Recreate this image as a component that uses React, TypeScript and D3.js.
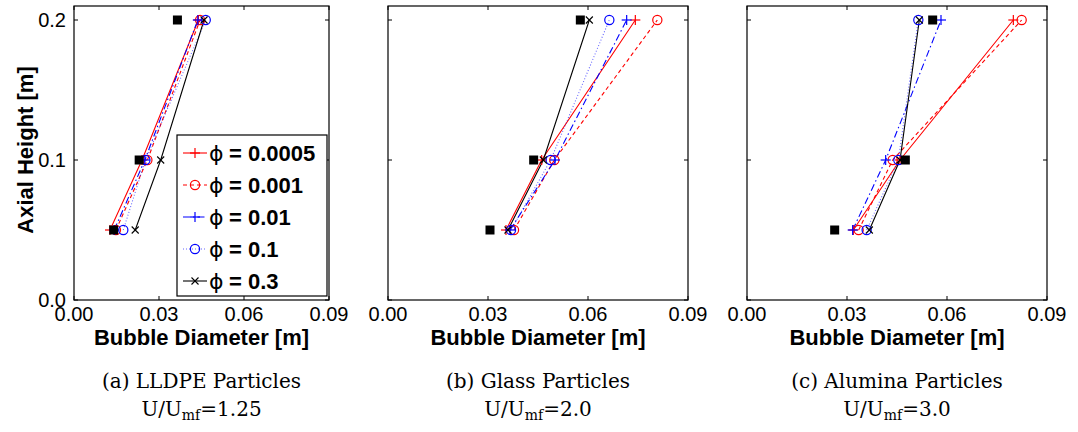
import React from "react";
import * as d3 from "d3";

const heights = [0.05, 0.1, 0.2];
const phiLabels = ["0.0005", "0.001", "0.01", "0.1", "0.3"];
const xTicks = [0, 0.03, 0.06, 0.09];
const yTicks = [0, 0.1, 0.2];
const panelTitles = ["(a) LLDPE Particles", "(b) Glass Particles", "(c) Alumina Particles"];
const panelRatios = ["1.25", "2.0", "3.0"];

// LLDPE
const lldpe0005 = [0.0127, 0.024, 0.0439];
const lldpe001 = [0.0148, 0.0259, 0.0445];
const lldpe01 = [0.0142, 0.025, 0.0437];
const lldpe1 = [0.0174, 0.0252, 0.0465];
const lldpe3 = [0.0216, 0.0306, 0.0459];
const lldpeExp = [0.014, 0.023, 0.0365];
// Glass
const glass0005 = [0.0354, 0.0461, 0.0742];
const glass001 = [0.0378, 0.0499, 0.0808];
const glass01 = [0.0366, 0.0501, 0.0716];
const glass1 = [0.0369, 0.0488, 0.0664];
const glass3 = [0.036, 0.0466, 0.0604];
const glassExp = [0.0306, 0.0437, 0.0577];
// Alumina
const alum0005 = [0.0319, 0.0459, 0.0799];
const alum001 = [0.0335, 0.0437, 0.0824];
const alum01 = [0.0317, 0.0416, 0.0582];
const alum1 = [0.0359, 0.0454, 0.0514];
const alum3 = [0.0367, 0.0459, 0.0517];
const alumExp = [0.0263, 0.0475, 0.0557];

const panelSeries = [
  [lldpe0005, lldpe001, lldpe01, lldpe1, lldpe3],
  [glass0005, glass001, glass01, glass1, glass3],
  [alum0005, alum001, alum01, alum1, alum3],
];
const panelExp = [lldpeExp, glassExp, alumExp];

const styles = [
  { color: "#ff0000", dash: "none", marker: "plus" },
  { color: "#ff0000", dash: "4,3", marker: "circle" },
  { color: "#0000ff", dash: "7,3,1.5,3", marker: "plus" },
  { color: "#0000ff", dash: "1,2", marker: "circle", opacity: 0.6 },
  { color: "#000000", dash: "none", marker: "cross" },
];

const panels = [
  { left: 74, right: 329 },
  { left: 388, right: 688 },
  { left: 747, right: 1047 },
];
const TOP = 6;
const BOTTOM = 300;
const SANS = "'Liberation Sans', Arial, Helvetica, sans-serif";
const SERIF = "'DejaVu Serif', serif";

function Marker({ type, x, y, color }: { type: string; x: number; y: number; color: string }) {
  if (type === "plus") {
    return (
      <g stroke={color} strokeWidth={1.2}>
        <line x1={x - 5} x2={x + 5} y1={y} y2={y} />
        <line x1={x} x2={x} y1={y - 5} y2={y + 5} />
      </g>
    );
  }
  if (type === "circle") {
    return <circle cx={x} cy={y} r={4.6} fill="none" stroke={color} strokeWidth={1.2} />;
  }
  if (type === "cross") {
    return (
      <g stroke={color} strokeWidth={1.1}>
        <line x1={x - 3.5} x2={x + 3.5} y1={y - 3.5} y2={y + 3.5} />
        <line x1={x - 3.5} x2={x + 3.5} y1={y + 3.5} y2={y - 3.5} />
      </g>
    );
  }
  return <rect x={x - 4.5} y={y - 4.5} width={9} height={9} fill="#000" />;
}

function Panel({ idx }: { idx: number }) {
  const p = panels[idx];
  const x = d3.scaleLinear().domain([0, 0.09]).range([p.left, p.right]);
  const y = d3.scaleLinear().domain([0, 0.21]).range([BOTTOM, TOP]);
  const line = d3
    .line<number>()
    .x((d) => x(d))
    .y((_, i) => y(heights[i]));
  const cx = (p.left + p.right) / 2;
  return (
    <g>
      <rect x={p.left} y={TOP} width={p.right - p.left} height={BOTTOM - TOP} fill="#fff" stroke="#000" strokeWidth={1.2} />
      {xTicks.map((t) => (
        <g key={"x" + t}>
          <line x1={x(t)} x2={x(t)} y1={BOTTOM} y2={BOTTOM - 4} stroke="#000" />
          <line x1={x(t)} x2={x(t)} y1={TOP} y2={TOP + 4} stroke="#000" />
          <text x={x(t)} y={321} textAnchor="middle" fontFamily={SANS} fontSize={20}>
            {t.toFixed(2)}
          </text>
        </g>
      ))}
      {yTicks.map((t) => (
        <g key={"y" + t}>
          <line x1={p.left} x2={p.left + 4} y1={y(t)} y2={y(t)} stroke="#000" />
          <line x1={p.right} x2={p.right - 4} y1={y(t)} y2={y(t)} stroke="#000" />
          {idx === 0 && (
            <text x={p.left - 8} y={y(t) + 7} textAnchor="end" fontFamily={SANS} fontSize={20}>
              {t.toFixed(1)}
            </text>
          )}
        </g>
      ))}
      {panelSeries[idx].map((s, si) => (
        <path
          key={"l" + si}
          d={line(s) || ""}
          fill="none"
          stroke={styles[si].color}
          strokeWidth={1.1}
          strokeDasharray={styles[si].dash}
          opacity={styles[si].opacity || 1}
        />
      ))}
      {panelSeries[idx].map((s, si) =>
        s.map((v, i) => (
          <Marker key={"m" + si + "_" + i} type={styles[si].marker} x={x(v)} y={y(heights[i])} color={styles[si].color} />
        ))
      )}
      {panelExp[idx].map((v, i) => (
        <Marker key={"e" + i} type="square" x={x(v)} y={y(heights[i])} color="#000" />
      ))}
      <text x={cx} y={345} textAnchor="middle" fontFamily={SANS} fontWeight="bold" fontSize={22}>
        Bubble Diameter [m]
      </text>
      <text x={cx} y={388} textAnchor="middle" fontFamily={SERIF} fontSize={20}>
        {panelTitles[idx]}
      </text>
      <text x={cx} y={416} textAnchor="middle" fontFamily={SERIF} fontSize={20}>
        U/U
        <tspan fontSize={14} dy={4}>
          mf
        </tspan>
        <tspan dy={-4}>={panelRatios[idx]}</tspan>
      </text>
    </g>
  );
}

function Legend() {
  const lx = 177;
  const ly = 135;
  const w = 150;
  const h = 161;
  return (
    <g>
      <rect x={lx} y={ly} width={w} height={h} fill="#fff" stroke="#000" strokeWidth={1.2} />
      {phiLabels.map((lab, i) => {
        const yy = 153 + i * 32;
        const st = styles[i];
        return (
          <g key={lab}>
            <line x1={183} x2={207} y1={yy} y2={yy} stroke={st.color} strokeWidth={1.1} strokeDasharray={st.dash} opacity={st.opacity || 1} />
            <Marker type={st.marker} x={195} y={yy} color={st.color} />
            <text x={209} y={yy + 8} fontFamily="'DejaVu Sans', sans-serif" fontSize={22}>
              ϕ
            </text>
            <text x={229} y={yy + 8} fontFamily={SANS} fontWeight="bold" fontSize={22}>
              = {lab}
            </text>
          </g>
        );
      })}
    </g>
  );
}

export default function App() {
  return (
    <svg
      width={1078}
      height={432}
      style={{ position: "absolute", left: 0, top: 0, background: "#fff" }}
    >
      <rect width={1078} height={432} fill="#fff" />
      {panels.map((_, i) => (
        <Panel key={i} idx={i} />
      ))}
      <Legend />
      <text
        transform="translate(33,150) rotate(-90)"
        textAnchor="middle"
        fontFamily={SANS}
        fontWeight="bold"
        fontSize={22}
      >
        Axial Height [m]
      </text>
    </svg>
  );
}
